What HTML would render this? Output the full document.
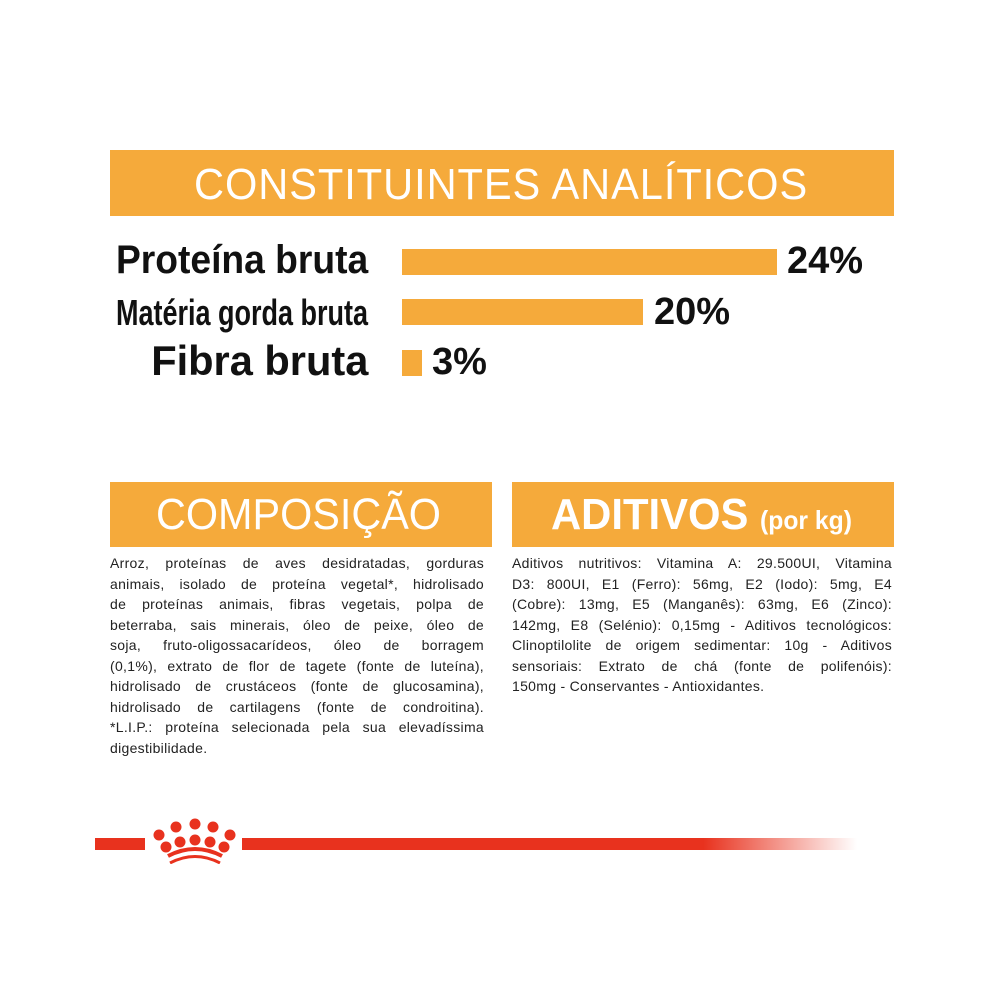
<!DOCTYPE html>
<html><head><meta charset="utf-8"><style>
body{margin:0;width:1000px;height:1000px;background:#fff;position:relative;font-family:"Liberation Sans",sans-serif;overflow:hidden}
.a{position:absolute}
.or{background:#f5aa3b}
.h{color:#fff;font-weight:bold;white-space:nowrap;transform-origin:left center}
.lbl{color:#111;font-weight:bold;white-space:nowrap;transform-origin:right center;text-align:right}
.pct{color:#111;font-weight:bold;font-size:38px}
.txt{font-size:14px;letter-spacing:0.3px;line-height:20.5px;color:#222}
.txt div{text-align:justify;text-align-last:justify;white-space:nowrap}
.txt div.l{text-align-last:left}
</style></head><body>
<div class="a or" style="left:110px;top:150px;width:784px;height:66px"></div>
<div class="a h" style="left:194px;top:160px;font-size:44px;transform:scaleX(0.945);font-weight:normal;letter-spacing:1px">CONSTITUINTES ANALÍTICOS</div>

<div class="a lbl" style="right:632px;top:238px;font-size:40px;transform:scaleX(0.93)">Proteína bruta</div>
<div class="a lbl" style="right:632px;top:292px;font-size:36px;transform:scaleX(0.75)">Matéria gorda bruta</div>
<div class="a lbl" style="right:632px;top:337px;font-size:42px;transform:scaleX(0.99)">Fibra bruta</div>

<div class="a or" style="left:402px;top:249px;width:375px;height:26px"></div>
<div class="a or" style="left:402px;top:299px;width:241px;height:26px"></div>
<div class="a or" style="left:402px;top:350px;width:20px;height:26px"></div>
<div class="a pct" style="left:787px;top:240px">24%</div>
<div class="a pct" style="left:654px;top:291px">20%</div>
<div class="a pct" style="left:432px;top:341px">3%</div>

<div class="a or" style="left:110px;top:482px;width:382px;height:65px"></div>
<div class="a h" style="left:156px;top:490px;font-size:44px;font-weight:normal;transform:scaleX(0.94)">COMPOSIÇÃO</div>
<div class="a or" style="left:512px;top:482px;width:382px;height:65px"></div>
<div class="a h" style="left:551px;top:490px;font-size:44px;transform:scaleX(0.95)">ADITIVOS <span style="font-size:26px">(por kg)</span></div>

<div class="a txt" style="left:110px;top:553px;width:374px">
<div>Arroz, proteínas de aves desidratadas, gorduras</div>
<div>animais, isolado de proteína vegetal*, hidrolisado</div>
<div>de proteínas animais, fibras vegetais, polpa de</div>
<div>beterraba, sais minerais, óleo de peixe, óleo de</div>
<div>soja, fruto-oligossacarídeos, óleo de borragem</div>
<div>(0,1%), extrato de flor de tagete (fonte de luteína),</div>
<div>hidrolisado de crustáceos (fonte de glucosamina),</div>
<div>hidrolisado de cartilagens (fonte de condroitina).</div>
<div>*L.I.P.: proteína selecionada pela sua elevadíssima</div>
<div class="l">digestibilidade.</div>
</div>
<div class="a txt" style="left:512px;top:553px;width:380px">
<div>Aditivos nutritivos: Vitamina A: 29.500UI, Vitamina</div>
<div>D3: 800UI, E1 (Ferro): 56mg, E2 (Iodo): 5mg, E4</div>
<div>(Cobre): 13mg, E5 (Manganês): 63mg, E6 (Zinco):</div>
<div>142mg, E8 (Selénio): 0,15mg - Aditivos tecnológicos:</div>
<div>Clinoptilolite de origem sedimentar: 10g - Aditivos</div>
<div>sensoriais: Extrato de chá (fonte de polifenóis):</div>
<div class="l">150mg - Conservantes - Antioxidantes.</div>
</div>

<div class="a" style="left:95px;top:838px;width:50px;height:12px;background:#e8321e"></div>
<div class="a" style="left:242px;top:838px;width:615px;height:12px;background:linear-gradient(to right,#e8321e 75%,rgba(232,50,30,0))"></div>
<svg class="a" style="left:150px;top:818px" width="90" height="46" viewBox="0 0 90 46">
<g fill="#e8321e">
<circle cx="9" cy="17" r="5.5"/><circle cx="26" cy="9" r="5.5"/><circle cx="45" cy="6" r="5.5"/><circle cx="63" cy="9" r="5.5"/><circle cx="80" cy="17" r="5.5"/>
<circle cx="16" cy="29" r="5.5"/><circle cx="30" cy="24" r="5.5"/><circle cx="45" cy="22" r="5.5"/><circle cx="60" cy="24" r="5.5"/><circle cx="74" cy="29" r="5.5"/>
</g>
<path d="M18 38 Q45 24 72 38" stroke="#e8321e" stroke-width="4" fill="none"/>
<path d="M20 45 Q45 32 70 45" stroke="#e8321e" stroke-width="3" fill="none"/>
</svg>
</body></html>
